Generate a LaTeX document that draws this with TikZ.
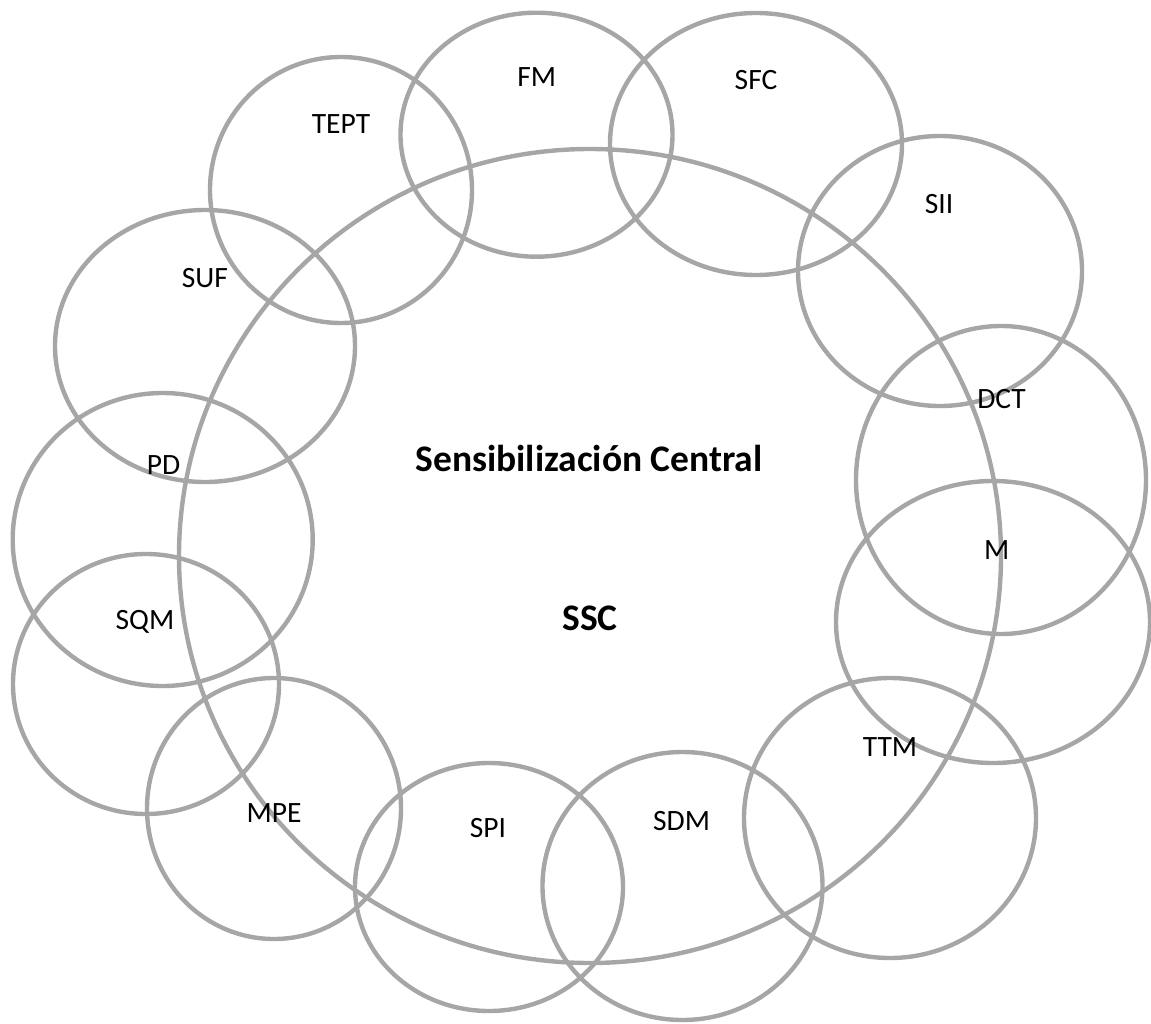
\documentclass[tikz,border=0pt]{standalone}
\usepackage{fontspec}
\setmainfont{Carlito}
\usetikzlibrary{shapes.geometric}
\definecolor{ringgray}{HTML}{A6A6A6}
\tikzset{
  ring/.style={ellipse, draw=ringgray, line width=4.4pt, inner sep=0pt, fill=none},
  lbl/.style={anchor=base, inner sep=0pt, font=\fontsize{29.5}{32}\selectfont},
  title/.style={anchor=base, inner sep=0pt, font=\fontsize{37.5}{40}\selectfont\bfseries}
}
\begin{document}
\begin{tikzpicture}[x=1pt,y=-1pt]
\useasboundingbox (0,0) rectangle (1151,1023);
% big central ellipse
\node[ring, minimum width=822pt, minimum height=814pt] (ssc) at (590,556) {};
% surrounding circles
\node[ring, minimum width=272pt, minimum height=244pt] (cfm)   at (536.5,134.7) {};
\node[ring, minimum width=292pt, minimum height=262pt] (csfc)  at (756,144) {};
\node[ring, minimum width=284pt, minimum height=270pt] (csii)  at (940,271) {};
\node[ring, minimum width=290pt, minimum height=308pt] (cdct)  at (1001,480) {};
\node[ring, minimum width=314pt, minimum height=282pt] (cm)    at (993,622) {};
\node[ring, minimum width=292pt, minimum height=280pt] (cttm)  at (890,818) {};
\node[ring, minimum width=280pt, minimum height=268pt] (csdm)  at (682.5,886) {};
\node[ring, minimum width=268pt, minimum height=248pt] (cspi)  at (489,887) {};
\node[ring, minimum width=254pt, minimum height=261pt] (cmpe)  at (274,808.5) {};
\node[ring, minimum width=266pt, minimum height=260pt] (csqm)  at (146,684) {};
\node[ring, minimum width=300pt, minimum height=293pt] (cpd)   at (162.7,539.5) {};
\node[ring, minimum width=300pt, minimum height=272pt] (csuf)  at (205,346) {};
\node[ring, minimum width=262pt, minimum height=266pt] (ctept) at (341,190) {};
% labels (baseline = cap centre + 9.5)
\node[lbl] (tfm)   at (536.8,86.2)  {FM};
\node[lbl] (tsfc)  at (756,89.5)    {SFC};
\node[lbl] (tsii)  at (939,213.5)   {SII};
\node[lbl] (tdct)  at (1001.5,408.5) {DCT};
\node[lbl] (tm)    at (996.7,559.5) {M};
\node[lbl] (tttm)  at (890,756.5)   {TTM};
\node[lbl] (tsdm)  at (681.6,830.5) {SDM};
\node[lbl] (tspi)  at (488,837.5)   {SPI};
\node[lbl] (tmpe)  at (274,822.5)   {MPE};
\node[lbl] (tsqm)  at (145,629.5)   {SQM};
\node[lbl] (tpd)   at (163.6,474.5) {PD};
\node[lbl] (tsuf)  at (204.8,287.2) {SUF};
\node[lbl] (ttept) at (341,133.5)   {TEPT};
% central titles
\node[title] (tsens) at (589,471) {Sensibilización Central};
\node[title] (tssc)  at (590,630) {SSC};
\end{tikzpicture}
\end{document}
